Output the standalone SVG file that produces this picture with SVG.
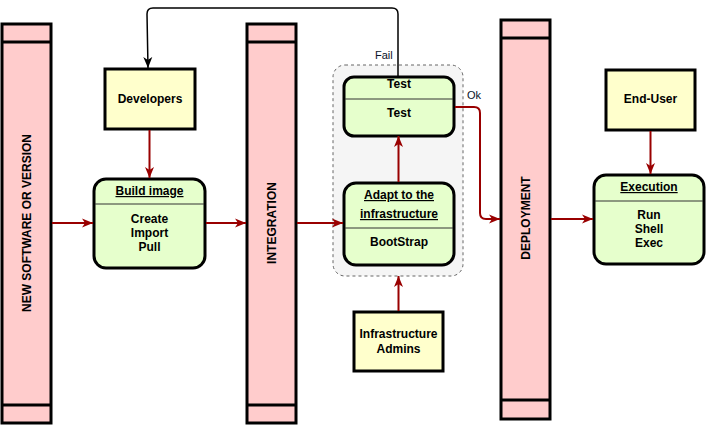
<svg xmlns="http://www.w3.org/2000/svg" width="706" height="425" viewBox="0 0 706 425">
<style>
text{font-family:"Liberation Sans",Arial,sans-serif;font-size:12px;font-weight:bold;fill:#000;text-anchor:middle}
.bar{fill:#ffcccc;stroke:#000;stroke-width:3}
.sep{stroke:#000;stroke-width:3}
.actor{fill:#ffffcc;stroke:#000;stroke-width:3}
.state{fill:#e6ffcc;stroke:#000;stroke-width:3}
.div{stroke:#333;stroke-width:1}
.u{text-decoration:underline}
.red{fill:none;stroke:#990000;stroke-width:2}
.blk{fill:none;stroke:#000;stroke-width:1.5}
.lbl{font-weight:normal;font-size:11px;fill:#0a1428;text-anchor:start}
</style>
<defs>
<marker id="ar" markerUnits="userSpaceOnUse" markerWidth="12" markerHeight="10" refX="11" refY="5" orient="auto">
<path d="M0,0.5 L11,5 L0,9.5 L3,5 Z" fill="#990000"/>
</marker>
<marker id="ab" markerUnits="userSpaceOnUse" markerWidth="12" markerHeight="10" refX="11" refY="5" orient="auto">
<path d="M0,0.5 L11,5 L0,9.5 L3,5 Z" fill="#000"/>
</marker>
</defs>
<g id="bar-new">
<rect class="bar" x="2" y="24" width="49" height="399"/>
<line class="sep" x1="2" y1="42" x2="51" y2="42"/>
<line class="sep" x1="2" y1="405" x2="51" y2="405"/>
<text transform="translate(31,223) rotate(-90)">NEW SOFTWARE OR VERSION</text>
</g>
<g id="bar-integration">
<rect class="bar" x="247" y="24" width="49" height="399"/>
<line class="sep" x1="247" y1="42" x2="296" y2="42"/>
<line class="sep" x1="247" y1="405" x2="296" y2="405"/>
<text transform="translate(276,223) rotate(-90)">INTEGRATION</text>
</g>
<g id="bar-deployment">
<rect class="bar" x="501" y="20" width="49" height="399"/>
<line class="sep" x1="501" y1="38" x2="550" y2="38"/>
<line class="sep" x1="501" y1="400" x2="550" y2="400"/>
<text transform="translate(530,218) rotate(-90)">DEPLOYMENT</text>
</g>
<g id="group-container">
<rect x="333" y="65" width="130" height="211" rx="12" fill="#f5f5f5" stroke="#666" stroke-width="1" stroke-dasharray="3,3"/>
</g>
<g id="developers">
<rect class="actor" x="105" y="69" width="90" height="60"/>
<text x="150" y="103">Developers</text>
</g>
<g id="build-image">
<rect class="state" x="94" y="179" width="111" height="89" rx="12"/>
<line class="div" x1="95" y1="204" x2="204" y2="204"/>
<text class="u" x="149.5" y="195">Build image</text>
<text x="149.5" y="223">Create</text>
<text x="149.5" y="237">Import</text>
<text x="149.5" y="251">Pull</text>
</g>
<g id="test">
<rect class="state" x="344" y="77" width="110" height="59" rx="10"/>
<line class="div" x1="345" y1="99" x2="453" y2="99"/>
<text x="399" y="88">Test</text>
<text x="399" y="117">Test</text>
</g>
<g id="adapt">
<rect class="state" x="344" y="183" width="110" height="82" rx="12"/>
<line class="div" x1="345" y1="228" x2="453" y2="228"/>
<text class="u" x="399" y="199">Adapt to the</text>
<text class="u" x="399" y="218">infrastructure</text>
<text x="399" y="246">BootStrap</text>
</g>
<g id="infra-admins">
<rect class="actor" x="354" y="312" width="89" height="59"/>
<text x="398.5" y="338">Infrastructure</text>
<text x="398.5" y="353">Admins</text>
</g>
<g id="end-user">
<rect class="actor" x="606" y="70" width="89" height="60"/>
<text x="650.5" y="103">End-User</text>
</g>
<g id="execution">
<rect class="state" x="594" y="175" width="110" height="89" rx="12"/>
<line class="div" x1="595" y1="201" x2="703" y2="201"/>
<text class="u" x="649" y="191">Execution</text>
<text x="649" y="219">Run</text>
<text x="649" y="233">Shell</text>
<text x="649" y="247">Exec</text>
</g>
<g id="connectors">
<path class="red" d="M52,223 H93" marker-end="url(#ar)"/>
<path class="red" d="M149.5,130 V178" marker-end="url(#ar)"/>
<path class="red" d="M206,223 H246" marker-end="url(#ar)"/>
<path class="red" d="M297,223 H343" marker-end="url(#ar)"/>
<path class="red" d="M398.5,182 V136" marker-end="url(#ar)"/>
<path class="red" d="M398.5,311 V276" marker-end="url(#ar)"/>
<path class="red" d="M455,107 H474 Q480,107 480,113 V213 Q480,219 486,219 H500" marker-end="url(#ar)"/>
<path class="red" d="M551,219 H593" marker-end="url(#ar)"/>
<path class="red" d="M650.5,131 V174" marker-end="url(#ar)"/>
<path class="blk" d="M398,76 V14 Q398,8 392,8 H153 Q147,8 147,14 L148,68" marker-end="url(#ab)"/>
<text class="lbl" x="375" y="59">Fail</text>
<text class="lbl" x="467" y="99">Ok</text>
</g>
</svg>
